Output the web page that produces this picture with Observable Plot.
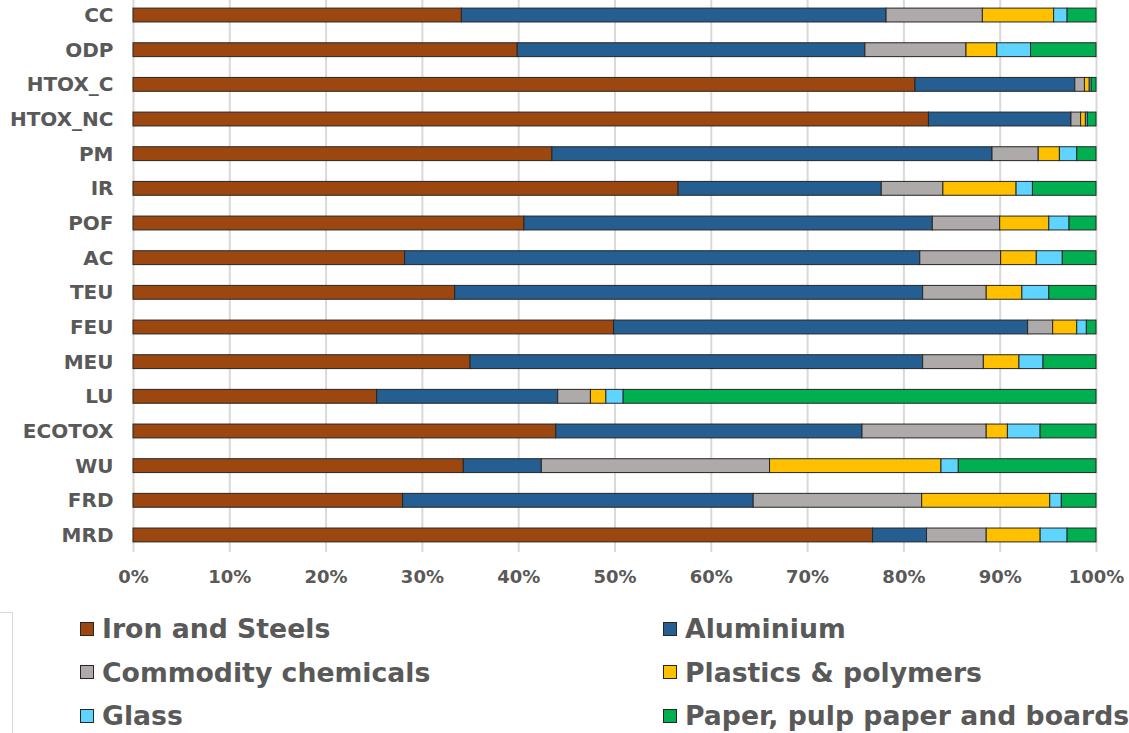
<!DOCTYPE html>
<html><head><meta charset="utf-8">
<script src="https://cdn.jsdelivr.net/npm/d3@7"></script>
<script src="https://cdn.jsdelivr.net/npm/@observablehq/plot@0.6"></script>
<style>
body{margin:0;background:#fff;font-family:"DejaVu Sans",Verdana,sans-serif;}
#wrap{position:relative;width:1129px;height:733px;overflow:hidden;background:#fff;}
#chart{position:absolute;left:0;top:0;}
#legend{position:absolute;left:80px;top:607px;display:grid;grid-template-columns:583px 460px;grid-auto-rows:43.5px;}
.item{display:flex;align-items:center;font-weight:bold;font-size:26.7px;color:#595959;white-space:nowrap;}
.sw{width:14px;height:14px;box-sizing:border-box;border:1px solid #262626;margin-right:8px;flex:none;}
#corner{position:absolute;left:-1px;top:612px;width:13px;height:200px;border-top:1px solid #d9d9d9;border-right:1px solid #d9d9d9;}
</style></head><body>
<div id="wrap"><div id="chart"></div><div id="legend"></div><div id="corner"></div></div>
<script>
const categories = ["CC","ODP","HTOX_C","HTOX_NC","PM","IR","POF","AC","TEU","FEU","MEU","LU","ECOTOX","WU","FRD","MRD"];
const materials = ["Iron and Steels","Aluminium","Commodity chemicals","Plastics & polymers","Glass","Paper, pulp paper and boards"];
const colors = ["#9C4710","#255E91","#ADAAA9","#FFC000","#5FD4FF","#00B050"];
const ticks = [0,10,20,30,40,50,60,70,80,90,100];

const ironSteels = [34.1,39.9,81.2,82.6,43.5,56.6,40.6,28.2,33.4,49.9,35.0,25.3,43.9,34.3,28.0,76.8];
const aluminium  = [44.1,36.1,16.6,14.8,45.7,21.1,42.4,53.5,48.6,43.0,47.0,18.8,31.8,8.1,36.4,5.6];
const chemicals  = [10.0,10.5,1.0,1.0,4.8,6.4,7.0,8.4,6.6,2.6,6.3,3.4,12.9,23.7,17.5,6.2];
const plastics   = [7.4,3.2,0.5,0.5,2.2,7.6,5.1,3.7,3.7,2.5,3.7,1.6,2.2,17.8,13.3,5.6];
const glass      = [1.4,3.5,0.2,0.2,1.8,1.7,2.1,2.7,2.8,1.0,2.5,1.8,3.4,1.8,1.2,2.8];
const paper      = [3.0,6.8,0.5,0.9,2.0,6.6,2.8,3.5,4.9,1.0,5.5,49.1,5.8,14.3,3.6,3.0];

const series = [ironSteels, aluminium, chemicals, plastics, glass, paper];
const data = [];
categories.forEach((c, i) => {
  materials.forEach((m, j) => data.push({category: c, material: m, value: series[j][i]}));
});

const chart = Plot.plot({
  width: 1129, height: 600,
  marginLeft: 133, marginRight: 33, marginTop: 0, marginBottom: 48,
  style: {fontFamily: "'DejaVu Sans', Verdana, sans-serif", fontWeight: "bold", color: "#595959", background: "transparent"},
  x: {domain: [0, 100]},
  y: {domain: categories, range: [-2.3, 552.3], paddingInner: 0.6, paddingOuter: 0.3, round: false},
  color: {domain: materials, range: colors},
  marks: [
    Plot.ruleX(ticks, {stroke: "#d9d9d9", strokeWidth: 2}),
    Plot.barX(data, Plot.stackX({x: "value", y: "category", fill: "material", order: materials, stroke: "#262626", strokeWidth: 1})),
    Plot.axisX({ticks: ticks, tickSize: 0, tickPadding: 18, fontSize: 18, tickFormat: d => d + "%", label: null}),
    Plot.axisY({tickSize: 0, tickPadding: 20, fontSize: 20, label: null, style: {letterSpacing: "0.5px"}})
  ]
});
document.getElementById("chart").appendChild(chart);

const legend = document.getElementById("legend");
materials.forEach((m, j) => {
  const it = document.createElement("div");
  it.className = "item";
  const sw = document.createElement("span");
  sw.className = "sw";
  sw.style.background = colors[j];
  it.appendChild(sw);
  it.appendChild(document.createTextNode(m));
  legend.appendChild(it);
});
</script>
</body></html>
